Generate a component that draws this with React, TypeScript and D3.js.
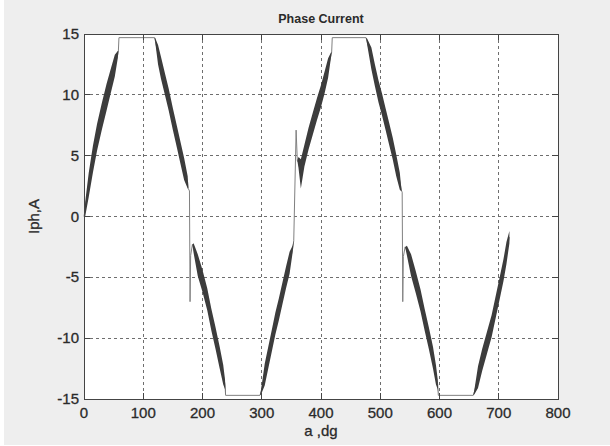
import React from 'react';
import * as d3 from 'd3';

// phase current trace: angle (deg), ripple band upper/lower (A)
// thin sections have upper === lower
const angle = [
  0, 2, 8, 15, 22, 30, 38, 45, 52, 57,
  58, 59, 119,
  120, 125, 130, 137, 143, 150, 157, 163, 169, 175,
  176, 178, 179, 180, 183,
  185, 192, 200, 208, 215, 222, 229, 235, 238,
  239, 297,
  299, 305, 311, 317, 323, 329, 335, 341, 347, 352,
  354, 358, 360,
  362, 366, 372, 379, 386, 393, 400, 406, 412, 417,
  418, 419, 476,
  478, 485, 491, 497, 503, 509, 515, 521, 527, 533, 535,
  536, 537, 538, 539, 542,
  545, 552, 560, 568, 575, 582, 589, 594, 597,
  598, 657,
  659, 665, 672, 680, 688, 695, 702, 708, 713, 718,
];
const upper = [
  0, 1.2, 3.6, 5.8, 7.6, 9.3, 10.9, 12.1, 13.3, 13.6,
  13.6, 14.7, 14.7,
  14.7, 14.1, 13.1, 11.7, 10.5, 8.9, 7.4, 6.1, 4.8, 3.3,
  2.3, 2.1, -7.0, -3.2, -2.3,
  -2.2, -3.1, -4.4, -5.9, -7.6, -9.1, -10.7, -12.2, -13.4,
  -14.7, -14.7,
  -14.2, -12.1, -10.7, -9.3, -7.9, -6.7, -5.4, -4.1, -2.9, -2.4,
  -2.0, 7.1, 4.6,
  4.9, 4.7, 5.9, 7.3, 8.5, 9.7, 10.8, 11.9, 13.0, 13.5,
  13.5, 14.7, 14.7,
  14.6, 13.9, 12.5, 11.2, 10.1, 8.9, 7.7, 6.5, 5.1, 3.6, 2.6,
  2.1, 2.0, -7.0, -3.3, -2.5,
  -2.4, -3.1, -4.5, -6.0, -7.6, -9.1, -10.7, -12.2, -13.4,
  -14.7, -14.7,
  -14.2, -12.3, -10.9, -9.5, -8.1, -6.5, -4.9, -3.5, -2.1, -1.2,
];
const lower = [
  0, 0.0, 1.6, 3.6, 5.4, 7.1, 8.7, 10.1, 11.5, 13.0,
  13.6, 14.7, 14.7,
  14.4, 12.5, 11.3, 9.9, 8.7, 7.1, 5.6, 4.3, 3.0, 2.3,
  2.3, 2.1, -7.0, -3.2, -2.3,
  -3.0, -4.9, -6.2, -7.7, -9.4, -10.9, -12.5, -13.8, -14.2,
  -14.7, -14.7,
  -14.6, -13.9, -12.5, -11.1, -9.7, -8.5, -7.2, -5.9, -4.7, -3.0,
  -2.0, 7.1, 4.6,
  4.0, 2.3, 4.1, 5.5, 6.7, 7.9, 9.0, 10.1, 11.4, 13.1,
  13.5, 14.7, 14.7,
  14.1, 12.1, 10.7, 9.4, 8.3, 7.1, 5.9, 4.7, 3.3, 2.2, 2.1,
  2.1, 2.0, -7.0, -3.3, -2.5,
  -3.2, -4.9, -6.3, -7.8, -9.4, -10.9, -12.5, -13.8, -14.2,
  -14.7, -14.7,
  -14.6, -14.1, -12.7, -11.3, -9.9, -8.3, -6.7, -5.3, -3.9, -2.2,
];

const xTicks = [0, 100, 200, 300, 400, 500, 600, 700, 800];
const yTicks = [-15, -10, -5, 0, 5, 10, 15];

const W = 610;
const H = 446;
const m = { left: 84, right: 558, top: 34, bottom: 399 };
const font = 'Arimo, "Liberation Sans", Arial, sans-serif';

export default function App() {
  const x = d3.scaleLinear().domain([0, 800]).range([m.left, m.right]);
  const y = d3.scaleLinear().domain([-15, 15]).range([m.bottom, m.top]);
  const pts = angle.map((a, i) => ({ a, hi: upper[i], lo: lower[i] }));

  const band = d3.area<any>()
    .x(d => x(d.a))
    .y0(d => y(d.lo))
    .y1(d => y(d.hi));
  const mid = d3.line<any>()
    .x(d => x(d.a))
    .y(d => y((d.hi + d.lo) / 2));

  const tick = 6;
  return (
    <svg width={W} height={H} style={{ position: 'absolute', left: 0, top: 0 }}>
      <rect width={W} height={H} fill="#fff" />
      <rect x={4} y={0} width={W - 4} height={H - 1} fill="#eeeeee" />
      <rect x={m.left} y={m.top} width={m.right - m.left} height={m.bottom - m.top} fill="#fff" />

      {/* grid */}
      <g stroke="#6e6e6e" strokeWidth={1} strokeDasharray="3,3" shapeRendering="crispEdges">
        {xTicks.slice(1, -1).map(t => (
          <line key={'gx' + t} x1={x(t)} x2={x(t)} y1={m.top} y2={m.bottom} />
        ))}
        {yTicks.slice(1, -1).map(t => (
          <line key={'gy' + t} x1={m.left} x2={m.right} y1={y(t)} y2={y(t)} />
        ))}
      </g>

      {/* trace */}
      <path d={mid(pts) || ''} fill="none" stroke="#808080" strokeWidth={1} />
      <path d={band(pts) || ''} fill="#3c3c3c" stroke="none" />

      {/* frame + ticks */}
      <g stroke="#444" strokeWidth={1} shapeRendering="crispEdges">
        <rect x={m.left} y={m.top} width={m.right - m.left} height={m.bottom - m.top} fill="none" />
        {xTicks.map(t => (
          <g key={'tx' + t}>
            <line x1={x(t)} x2={x(t)} y1={m.bottom} y2={m.bottom - tick} />
            <line x1={x(t)} x2={x(t)} y1={m.top} y2={m.top + tick} />
          </g>
        ))}
        {yTicks.map(t => (
          <g key={'ty' + t}>
            <line x1={m.left} x2={m.left + tick} y1={y(t)} y2={y(t)} />
            <line x1={m.right} x2={m.right - tick} y1={y(t)} y2={y(t)} />
          </g>
        ))}
      </g>

      <g fontFamily={font} fontSize={15} fill="#2a2a2a" stroke="#2a2a2a" strokeWidth={0.3}>
        {xTicks.map(t => (
          <text key={'lx' + t} x={x(t)} y={m.bottom + 19} textAnchor="middle">{t}</text>
        ))}
        {yTicks.map(t => (
          <text key={'ly' + t} x={m.left - 5} y={y(t) + 5} textAnchor="end">{t}</text>
        ))}
        <text x={(m.left + m.right) / 2} y={m.bottom + 37} textAnchor="middle">a ,dg</text>
        <text transform={`translate(${39},${(m.top + m.bottom) / 2}) rotate(-90)`} textAnchor="middle">Iph,A</text>
        <text x={(m.left + m.right) / 2} y={23} textAnchor="middle" fontSize={12.5} fontWeight="bold" strokeWidth={0}>Phase Current</text>
      </g>
    </svg>
  );
}
